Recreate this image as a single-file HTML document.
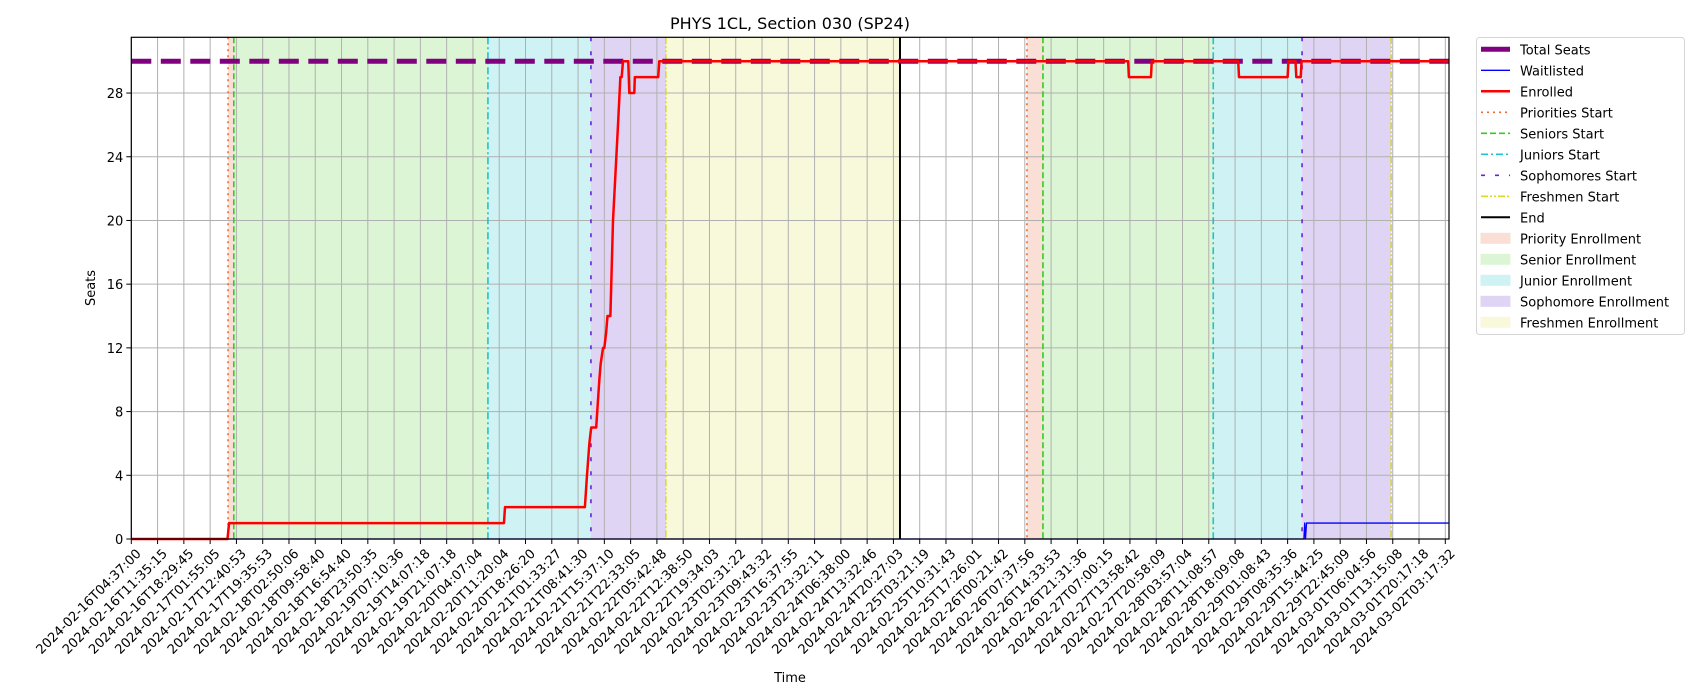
<!DOCTYPE html>
<html><head><meta charset="utf-8"><style>
body{margin:0;background:#fff;}
svg{display:block;font-family:"DejaVu Sans","Liberation Sans",sans-serif;}
</style></head><body>
<svg id="chart" width="1700" height="700" viewBox="0 0 1700 700" xmlns="http://www.w3.org/2000/svg">
<text x="790" y="29" text-anchor="middle" font-size="16">PHYS 1CL, Section 030 (SP24)</text>
<text transform="translate(95,288) rotate(-90)" text-anchor="middle" font-size="13">Seats</text>
<text x="790" y="682" text-anchor="middle" font-size="13">Time</text>
<g id="plot"></g>
<g id="legend"></g>
</svg>
<script>
const tickLabels=["2024-02-16T04:37:00","2024-02-16T11:35:15","2024-02-16T18:29:45","2024-02-17T01:55:05","2024-02-17T12:40:53","2024-02-17T19:35:53","2024-02-18T02:50:06","2024-02-18T09:58:40","2024-02-18T16:54:40","2024-02-18T23:50:35","2024-02-19T07:10:36","2024-02-19T14:07:18","2024-02-19T21:07:18","2024-02-20T04:07:04","2024-02-20T11:20:04","2024-02-20T18:26:20","2024-02-21T01:33:27","2024-02-21T08:41:30","2024-02-21T15:37:10","2024-02-21T22:33:05","2024-02-22T05:42:48","2024-02-22T12:38:50","2024-02-22T19:34:03","2024-02-23T02:31:22","2024-02-23T09:43:32","2024-02-23T16:37:55","2024-02-23T23:32:11","2024-02-24T06:38:00","2024-02-24T13:32:46","2024-02-24T20:27:03","2024-02-25T03:21:19","2024-02-25T10:31:43","2024-02-25T17:26:01","2024-02-26T00:21:42","2024-02-26T07:37:56","2024-02-26T14:33:53","2024-02-26T21:31:36","2024-02-27T07:00:15","2024-02-27T13:58:42","2024-02-27T20:58:09","2024-02-28T03:57:04","2024-02-28T11:08:57","2024-02-28T18:09:08","2024-02-29T01:08:43","2024-02-29T08:35:36","2024-02-29T15:44:25","2024-02-29T22:45:09","2024-03-01T06:04:56","2024-03-01T13:15:08","2024-03-01T20:17:18","2024-03-02T03:17:32"];
const yTicks=[0,4,8,12,16,20,24,28];
const totalSeats=30;
// positions in tick-index units (time axis)
const enrolledT=[0,3.66,3.72,14.18,14.22,17.26,17.34,17.43,17.5,17.69,17.81,17.86,17.95,18.0,18.07,18.12,18.23,18.33,18.52,18.61,18.66,18.71,18.91,18.95,19.14,19.16,20.05,20.09,37.93,37.96,38.8,38.83,42.12,42.15,44.0,44.03,44.3,44.33,44.5,44.53,50.12];
const enrolledV=[0,0,1,1,2,2,4,6,7,7,10,11,12,12,13,14,14,20,26,29,29,30,30,28,28,29,29,30,30,29,29,30,30,29,29,30,30,29,29,30,30];
const waitT=[0,44.62,44.65,44.68,44.72,50.12];
const waitV=[0,0,1,0,1,1];
const phaseStarts1=[3.68,3.9,13.57,17.49,20.34];
const endT=29.25;
const phaseStarts2=[34.08,34.69,41.17,44.55,47.94];
const end2=47.94;

const NS="http://www.w3.org/2000/svg";
const L=131.3,R=1449,T=37.3,B=539,step=26.28,yMax=31.5;
const X=i=>L+i*step, Y=v=>B-(v/yMax)*(B-T);
const plot=document.getElementById('plot'), leg=document.getElementById('legend');
function mk(tag,attrs,parent){const e=document.createElementNS(NS,tag);for(const k in attrs)e.setAttribute(k,attrs[k]);(parent||plot).appendChild(e);return e;}
const fills=["#f9dfd5","#dcf6d5","#cff2f4","#e0d4f5","#f8f9db"];
const lineCol=["#ee6a35","#33cc22","#1fc3cf","#6a22d8","#dada26"];
const dashes=["2,4","6,3","7,3,2,3","4,10","7,2,2,2,2,2"];
const phaseNames=["priority","senior","junior","sophomore","freshmen"];
mk('rect',{x:L,y:T,width:R-L,height:B-T,fill:'#fff'});
function shade(starts,end){for(let k=0;k<5;k++){const a=starts[k],b=k<4?starts[k+1]:end;if(b<=a)continue;
 const r=mk('rect',{x:X(a),y:T,width:X(b)-X(a),height:B-T,fill:fills[k]});
 
 }}
shade(phaseStarts1,endT);shade(phaseStarts2,end2);
// grid
tickLabels.forEach((t,i)=>{const g=mk('line',{x1:X(i),x2:X(i),y1:T,y2:B,stroke:'#b0b0b0','stroke-width':1});
 
 
 const tk=mk('line',{x1:X(i),x2:X(i),y1:B,y2:B+5,stroke:'#000','stroke-width':1});
 
 
 const tx=mk('text',{transform:`translate(${X(i)+4},${B+9}) rotate(-45)`,'text-anchor':'end','font-size':13,dy:'0.7em'});
 tx.textContent=t;
 
 });
yTicks.forEach(v=>{const g=mk('line',{x1:L,x2:R,y1:Y(v),y2:Y(v),stroke:'#b0b0b0','stroke-width':1});
 
 
 const tk=mk('line',{x1:L-5,x2:L,y1:Y(v),y2:Y(v),stroke:'#000'});
 
 
 const tx=mk('text',{x:L-8,y:Y(v)+5,'text-anchor':'end','font-size':13});
 tx.textContent=v;
 
 });
function vlines(starts){starts.forEach((s,k)=>{const l=mk('line',{x1:X(s),x2:X(s),y1:T,y2:B,stroke:lineCol[k],'stroke-width':1.6,'stroke-dasharray':dashes[k]});
 
 });}
vlines(phaseStarts1);vlines(phaseStarts2);
const el=mk('line',{x1:X(endT),x2:X(endT),y1:T,y2:B,stroke:'#000','stroke-width':2});


const ts=mk('line',{x1:L,x2:R,y1:Y(totalSeats),y2:Y(totalSeats),stroke:'#800080','stroke-width':5,'stroke-dasharray':'20,9.5'});


function pl(ts,vs,col,w,name){const p=mk('polyline',{points:ts.map((t,i)=>X(t)+','+Y(vs[i])).join(' '),fill:'none',stroke:col,'stroke-width':w,'stroke-linejoin':'round'});
 
 }
pl(waitT,waitV,'#0000ff',1.3,'waitlisted-line');
pl(enrolledT,enrolledV,'#ff0000',2.5,'enrolled-line');
mk('rect',{x:L,y:T,width:R-L,height:B-T,fill:'none',stroke:'#000','stroke-width':1.2});
// legend
mk('rect',{x:1476.5,y:37.5,width:208,height:297,rx:3,fill:'#fff',stroke:'#d5d5d5'},leg);
const items=[["Total Seats","l","#800080",5,""],["Waitlisted","l","#0000ff",1.3,""],["Enrolled","l","#ff0000",2.5,""],["Priorities Start","l",lineCol[0],1.6,dashes[0]],["Seniors Start","l",lineCol[1],1.6,dashes[1]],["Juniors Start","l",lineCol[2],1.6,dashes[2]],["Sophomores Start","l",lineCol[3],1.6,dashes[3]],["Freshmen Start","l",lineCol[4],1.6,dashes[4]],["End","l","#000",2,""],["Priority Enrollment","f",fills[0]],["Senior Enrollment","f",fills[1]],["Junior Enrollment","f",fills[2]],["Sophomore Enrollment","f",fills[3]],["Freshmen Enrollment","f",fills[4]]];
items.forEach((it,i)=>{const y=49.3+i*21;const g=mk('g',{},leg);
 
 
 if(it[1]=='l'){mk('line',{x1:1481,x2:1510,y1:y,y2:y,stroke:it[2],'stroke-width':it[3],'stroke-dasharray':it[4]||'none'},g);}
 else mk('rect',{x:1481,y:y-5,width:29,height:10,fill:it[2],stroke:it[2]},g);
 const t=mk('text',{x:1520,y:y+5,'font-size':13},g);t.textContent=it[0];});
</script>
</body></html>
